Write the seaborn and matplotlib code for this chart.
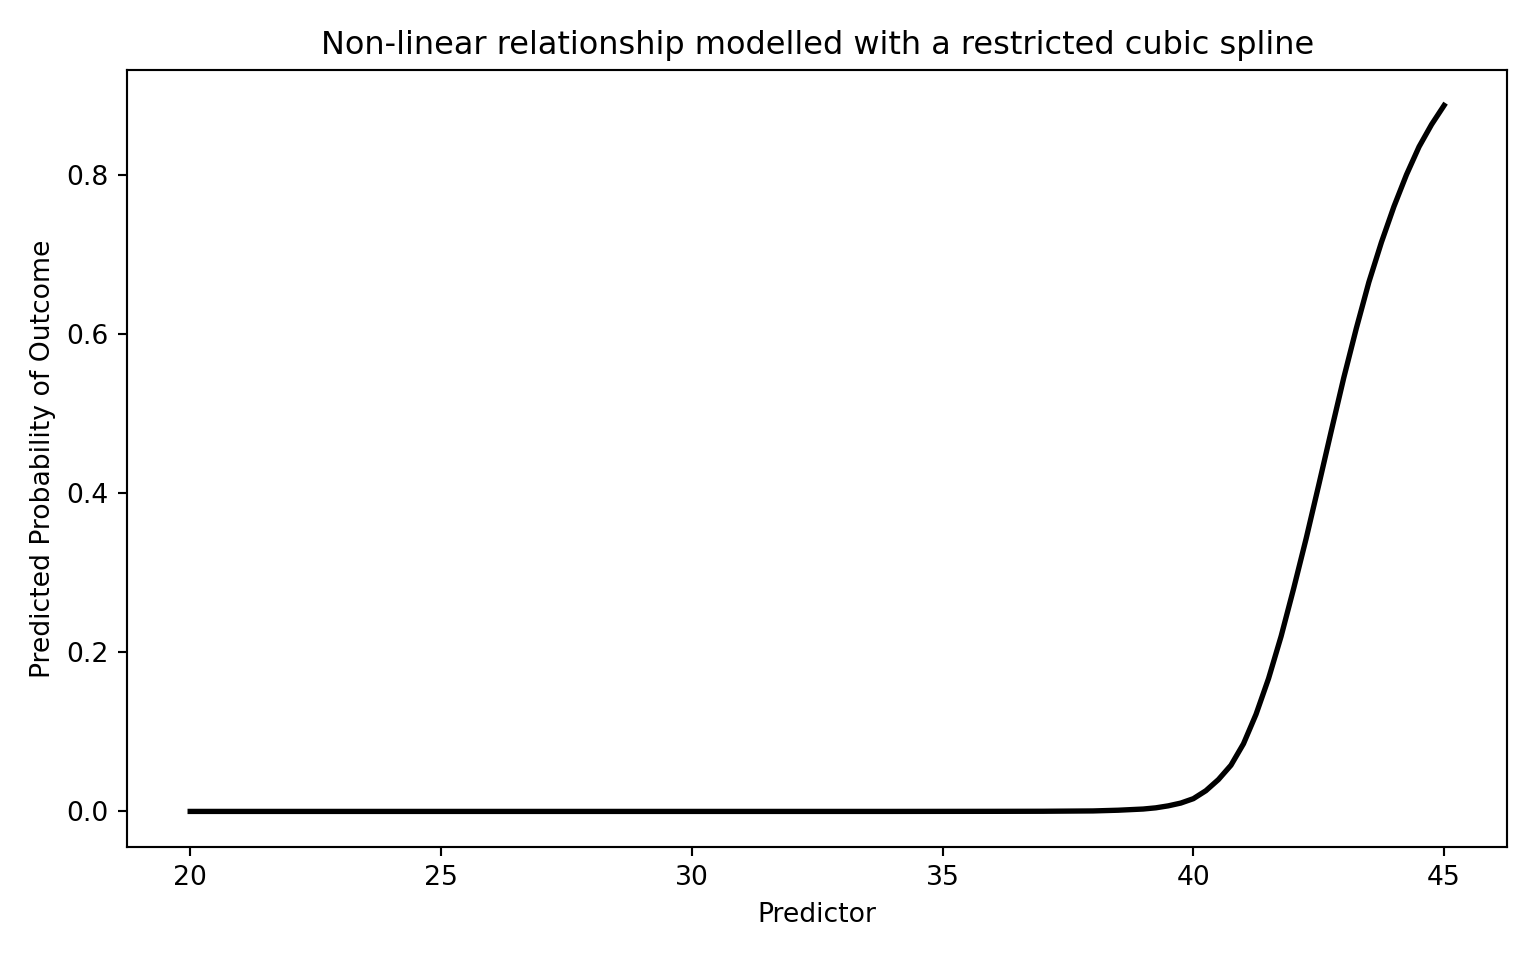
import seaborn as sns
import matplotlib
matplotlib.use("Agg")
import matplotlib.pyplot as plt
import pandas as pd

# predictor values and predicted probabilities
predictor = [20, 22, 24, 26, 28, 30, 32, 34, 36, 37, 38, 38.5, 39, 39.25, 39.5, 39.75,
             40, 40.25, 40.5, 40.75, 41, 41.25, 41.5, 41.75, 42, 42.25, 42.5, 42.75,
             43, 43.25, 43.5, 43.75, 44, 44.25, 44.5, 44.75, 45]
prob = [0.0, 0.0, 0.0, 0.0, 0.0, 0.0, 0.0, 0.0, 0.0001, 0.0002, 0.0006, 0.0015, 0.003, 0.0045, 0.007, 0.0105,
        0.016, 0.026, 0.040, 0.058, 0.085, 0.122, 0.167, 0.220, 0.280, 0.343, 0.410, 0.478,
        0.545, 0.607, 0.665, 0.715, 0.760, 0.800, 0.835, 0.863, 0.887]

df = pd.DataFrame({"Predictor": predictor, "Prob": prob})

fig, ax = plt.subplots(figsize=(8, 5), dpi=192)
sns.lineplot(data=df, x="Predictor", y="Prob", color="black", linewidth=2, ax=ax)

ax.set_title("Non-linear relationship modelled with a restricted cubic spline")
ax.set_xlabel("Predictor")
ax.set_ylabel("Predicted Probability of Outcome")

plt.subplots_adjust(left=0.083, right=0.981, bottom=0.118, top=0.927)
plt.savefig("out.png")
